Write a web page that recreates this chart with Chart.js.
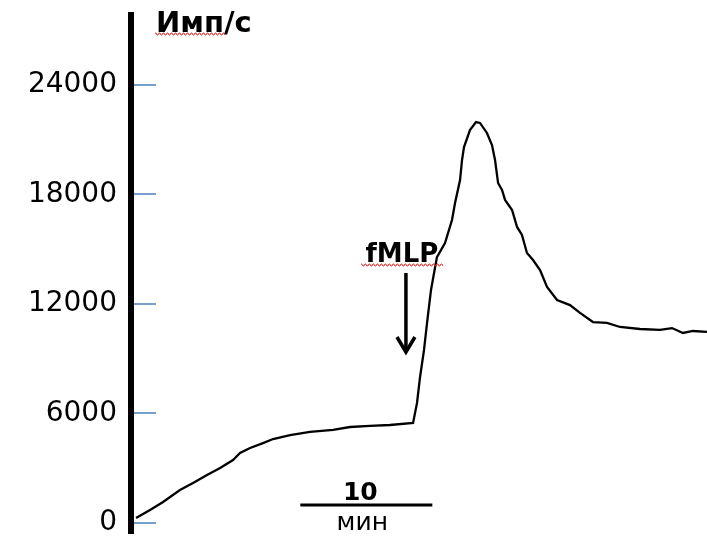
<!DOCTYPE html>
<html>
<head>
<meta charset="utf-8">
<script src="https://cdn.jsdelivr.net/npm/chart.js@4"></script>
<style>
  html, body { margin: 0; padding: 0; background: #fff; }
  #wrap { width: 707px; height: 540px; }
</style>
</head>
<body>
<div id="wrap"><canvas id="grafico"></canvas></div>
<script>
// --------- Datos ---------
const minutos = [0.15, 1.21, 2.2, 3.48, 4.47, 5.53, 6.52, 7.5, 8.03, 8.79, 9.77, 10.53,
  11.82, 13.33, 15.08, 16.36, 17.88, 19.39, 21.14, 21.44, 21.67, 21.97, 22.2, 22.5,
  22.73, 22.95, 23.56, 24.09, 24.32, 24.7, 24.85, 25.0, 25.45, 25.91, 26.21, 26.74,
  27.12, 27.35, 27.58, 27.88, 28.11, 28.64, 29.02, 29.39, 29.77, 30.23, 30.76, 31.29,
  32.05, 33.03, 33.79, 34.77, 35.83, 36.82, 38.33, 39.85, 40.76, 41.59, 42.35, 43.41];
const impulsos = [270, 710, 1150, 1810, 2190, 2630, 3010, 3450, 3840, 4110, 4380, 4600,
  4820, 4990, 5100, 5260, 5320, 5370, 5480, 6580, 8000, 9480, 10960, 12770,
  13700, 14570, 15340, 16600, 17530, 18790, 19890, 20600, 21530, 21970, 21920, 21370,
  20710, 19890, 18630, 18250, 17700, 17150, 16220, 15780, 14790, 14410, 13860, 12930,
  12220, 11940, 11510, 11010, 10960, 10740, 10630, 10580, 10680, 10410, 10520, 10470];
const yTicks = [0, 6000, 12000, 18000, 24000];

const unidadY = 'Имп/с';
const estimulo = 'fMLP';
const tEstimulo = 20.6;          // minuto donde apunta la flecha
const flechaDesde = 13700;       // Имп/с
const flechaHasta = 9370;
const barraInicio = 12.6;        // barra de escala de tiempo
const barraMinutos = 10;
const barraNivel = 990;

// --------- Anotaciones ---------

function subrayadoOndulado(ctx, x0, x1, yb) {
  ctx.beginPath();
  for (let x = x0; x <= x1; x += 1) {
    const yy = yb + (Math.floor((x - x0) / 2) % 2 === 0 ? -1 : 1);
    if (x === x0) ctx.moveTo(x, yy); else ctx.lineTo(x, yy);
  }
  ctx.stroke();
}

const anotaciones = {
  id: 'anotaciones',
  afterDraw(chart) {
    const { ctx, chartArea, scales: { x, y } } = chart;
    ctx.save();

    // marcas azules del eje
    ctx.strokeStyle = '#4a7ebb';
    ctx.lineWidth = 1.5;
    yTicks.forEach(v => {
      const py = Math.round(y.getPixelForValue(v));
      ctx.beginPath();
      ctx.moveTo(chartArea.left + 3, py);
      ctx.lineTo(chartArea.left + 25, py);
      ctx.stroke();
    });

    // unidad del eje Y
    ctx.fillStyle = '#000';
    ctx.font = 'bold 29px "DejaVu Sans"';
    ctx.textAlign = 'left';
    ctx.textBaseline = 'alphabetic';
    ctx.fillText(unidadY, chartArea.left + 25, 32);
    ctx.strokeStyle = '#e03030';
    ctx.lineWidth = 1;
    subrayadoOndulado(ctx, chartArea.left + 24, chartArea.left + 94, 34);

    // fMLP + flecha
    const xf = x.getPixelForValue(tEstimulo);
    ctx.font = 'bold 26px "DejaVu Sans"';
    ctx.textAlign = 'center';
    ctx.fillText(estimulo, xf - 4, 262);
    ctx.strokeStyle = '#e03030';
    subrayadoOndulado(ctx, xf - 45, xf + 37, 265);

    const y0 = y.getPixelForValue(flechaDesde);
    const y1 = y.getPixelForValue(flechaHasta);
    ctx.strokeStyle = '#000';
    ctx.lineWidth = 3.5;
    ctx.beginPath();
    ctx.moveTo(xf, y0);
    ctx.lineTo(xf, y1 - 2);
    ctx.stroke();
    ctx.beginPath();
    ctx.moveTo(xf - 9, y1 - 15);
    ctx.lineTo(xf, y1);
    ctx.lineTo(xf + 9, y1 - 15);
    ctx.stroke();

    // barra de escala: 10 мин
    const xb0 = x.getPixelForValue(barraInicio);
    const xb1 = x.getPixelForValue(barraInicio + barraMinutos);
    const yb = y.getPixelForValue(barraNivel);
    ctx.lineWidth = 3;
    ctx.beginPath();
    ctx.moveTo(xb0, yb);
    ctx.lineTo(xb1, yb);
    ctx.stroke();
    const xc = (xb0 + xb1) / 2;
    ctx.font = 'bold 25px "DejaVu Sans"';
    ctx.fillText(String(barraMinutos), xc - 6, yb - 5);
    ctx.font = '25px "DejaVu Sans"';
    ctx.fillText('мин', xc - 4, yb + 25);

    ctx.restore();
  }
};

// --------- Gráfico ---------

new Chart(document.getElementById('grafico'), {
  type: 'line',
  data: {
    datasets: [{
      data: minutos.map((t, i) => ({ x: t, y: impulsos[i] })),
      borderColor: '#000',
      borderWidth: 2.3,
      pointRadius: 0,
      tension: 0,
      fill: false,
    }],
  },
  options: {
    responsive: true,
    maintainAspectRatio: false,
    animation: false,
    layout: { padding: { left: 0, right: 0, top: 15, bottom: 7 } },
    plugins: { legend: { display: false }, tooltip: { enabled: false } },
    scales: {
      x: {
        type: 'linear',
        display: false,
        min: -0.23,
        max: 43.41,
      },
      y: {
        min: -548,
        max: 27833,
        afterBuildTicks: s => { s.ticks = yTicks.map(v => ({ value: v })); },
        afterFit: s => {
          s.width = 131;
          s.paddingTop = 0;
          s.paddingBottom = 0;
        },
        grid: { display: true, drawOnChartArea: false, drawTicks: false },
        border: { display: true, color: '#000', width: 6 },
        ticks: {
          color: '#000',
          padding: 14,
          font: { family: '"DejaVu Sans"', size: 28 },
          callback: v => String(v),
        },
      },
    },
  },
  plugins: [anotaciones],
});
</script>
</body>
</html>
